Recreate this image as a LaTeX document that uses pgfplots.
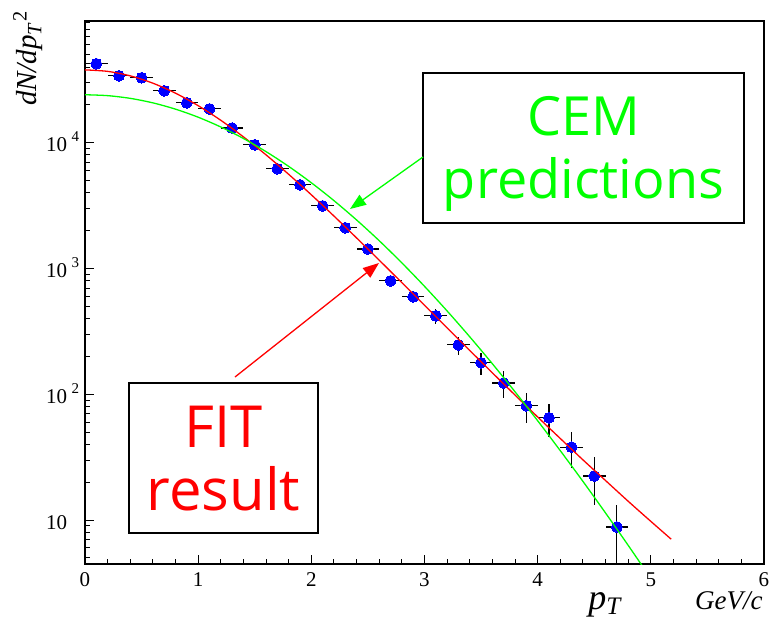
\documentclass[border=0pt]{standalone}
\usepackage{pgfplots}
\pgfplotsset{compat=1.18}
\usepackage{pgfplotstable}
\usepackage{fontspec}
\setmainfont{Liberation Serif}
\newfontfamily\comic{Open Sans}
\usetikzlibrary{arrows.meta}
\newcommand\ypow[1]{\hspace{2.25pt}\makebox[4pt][l]{\raisebox{5pt}{\fontsize{7.5}{8}\selectfont #1}}}

\pgfplotstableread{
x y ex ey
0.1 42500 0.1 1000
0.3 34100 0.1 900
0.5 32900 0.1 900
0.7 25900 0.1 800
0.9 20800 0.1 700
1.1 18600 0.1 650
1.3 13100 0.1 550
1.5 9640 0.1 450
1.7 6210 0.1 350
1.9 4630 0.1 280
2.1 3150 0.1 220
2.3 2110 0.1 170
2.5 1430 0.1 125
2.7 798 0.1 88
2.9 596 0.1 55
3.1 421 0.1 57
3.3 247 0.1 40
3.5 178 0.1 35
3.7 123 0.1 29
3.9 81 0.1 22
4.1 65 0.1 19
4.3 38 0.1 12
4.5 22.4 0.1 9.2
4.7 8.8 0.1 4.4
}\datatable

\pgfplotstableread{
x y
0.0 38000
0.2 36970
0.4 34055
0.6 29773
0.8 24788
1.0 19733
1.2 15098
1.4 11142
1.6 8011
1.8 5612
2.0 3858
2.2 2614
2.4 1751
2.6 1165
2.8 772
3.0 510
3.2 337
3.4 223
3.6 148
3.8 98.6
4.0 66.0
4.2 44.5
4.4 30.1
4.6 20.6
4.8 14.1
5.0 9.76
5.18 7.04
}\fittable

\pgfplotstableread{
x y
0.0 24100
0.2 23704
0.4 22556
0.6 20769
0.8 18509
1.0 15973
1.2 13353
1.4 10820
1.6 8505
1.8 6489
2.0 4810
2.2 3467
2.4 2433
2.6 1664
2.8 1109
3.0 722
3.2 459.7
3.4 286.4
3.6 174.8
3.8 104.7
4.0 61.6
4.2 35.6
4.4 20.3
4.6 11.37
4.8 6.29
5.0 3.43
}\cemtable

\begin{document}
\begin{tikzpicture}
\begin{axis}[
  scale only axis, width=339.5pt, height=271.5pt,
  at={(0,0)}, anchor=south west,
  xmin=0, xmax=6, ymode=log, ymin=4.47, ymax=93000,
  xtick={0,1,2,3,4,5,6}, xticklabels={0,1,2,3,4,5,6},
  minor x tick num=4,
  ytick={10,100,1000,10000},
  yticklabels={10\ypow{}, 10\ypow{2}, 10\ypow{3}, 10\ypow{4}},
  minor ytick={5,6,7,8,9,20,30,40,50,60,70,80,90,200,300,400,500,600,700,800,900,2000,3000,4000,5000,6000,7000,8000,9000,20000,30000,40000,50000,60000,70000,80000,90000},
  xtick pos=bottom, ytick pos=left,
  tick align=inside,
  major tick length=4.5pt, minor tick length=2.5pt,
  tick style={black, line width=0.5pt},
  axis line style={line width=0.6pt, black},
  every tick label/.append style={font=\fontsize{10.5}{12}\selectfont},
  yticklabel style={inner sep=0pt, anchor=base east, xshift=-2.5pt, yshift=-4.5pt},
  xticklabel style={inner sep=0pt, anchor=north, yshift=-4pt},
  clip mode=individual,
]
\addplot[draw=none, mark=none,
  error bars/.cd, x dir=both, x explicit, y dir=both, y explicit,
  error mark=none, error bar style={black, line width=0.6pt}]
  table[x=x, y=y, x error=ex, y error=ey] {\datatable};
\addplot[blue, only marks, mark=*, mark size=2.7pt, mark options={fill=blue, draw=blue, line width=0pt}]
  table[x=x, y=y] {\datatable};
\addplot[red, line width=0.65pt, smooth, tension=0.5] table[x=x,y=y] {\fittable};
\addplot[green, line width=0.65pt, smooth, tension=0.5] table[x=x,y=y] {\cemtable};
\end{axis}
% annotation boxes
\draw[line width=0.85pt, fill=white] (169pt,170.5pt) rectangle (329.5pt,245.5pt);
\node[green, anchor=base, inner sep=0pt, font=\comic\fontsize{27}{30}\selectfont] at (249.25pt,214.5pt) {CEM};
\node[green, anchor=base, inner sep=0pt, font=\comic\fontsize{27}{30}\selectfont] at (249.25pt,183pt) {predictions};
\draw[line width=0.85pt, fill=white] (22pt,15.5pt) rectangle (116.5pt,90.5pt);
\node[red, anchor=base, inner sep=0pt, font=\comic\fontsize{29}{31}\selectfont] at (69.25pt,58.5pt) {FIT};
\node[red, anchor=base, inner sep=0pt, font=\comic\fontsize{29}{31}\selectfont] at (69.25pt,27pt) {result};
\draw[green, line width=0.65pt, -{Triangle[length=8pt,width=6pt]}] (169pt,203.5pt) -- (132.5pt,177.5pt);
\draw[red, line width=0.65pt, -{Triangle[length=8pt,width=6pt]}] (75pt,93.5pt) -- (147pt,150.5pt);
% axis titles
\node[rotate=90, anchor=base east, inner sep=0pt, font=\fontsize{14.5}{16}\selectfont] at (-24pt,277pt) {\textit{dN/dp}\textsubscript{\textit{T}}\textsuperscript{2}};
\node[anchor=base east, inner sep=0pt, font=\fontsize{13.5}{15}\selectfont\itshape] at (339pt,-22.5pt) {GeV/c};
\node[anchor=base west, inner sep=0pt, font=\fontsize{18}{20}\selectfont\itshape] at (251.5pt,-22.5pt) {p\textsubscript{T}};
\pgfresetboundingbox
\path[use as bounding box] (-42.5pt,-29.5pt) rectangle (343.5pt,282pt);
\end{tikzpicture}
\end{document}
